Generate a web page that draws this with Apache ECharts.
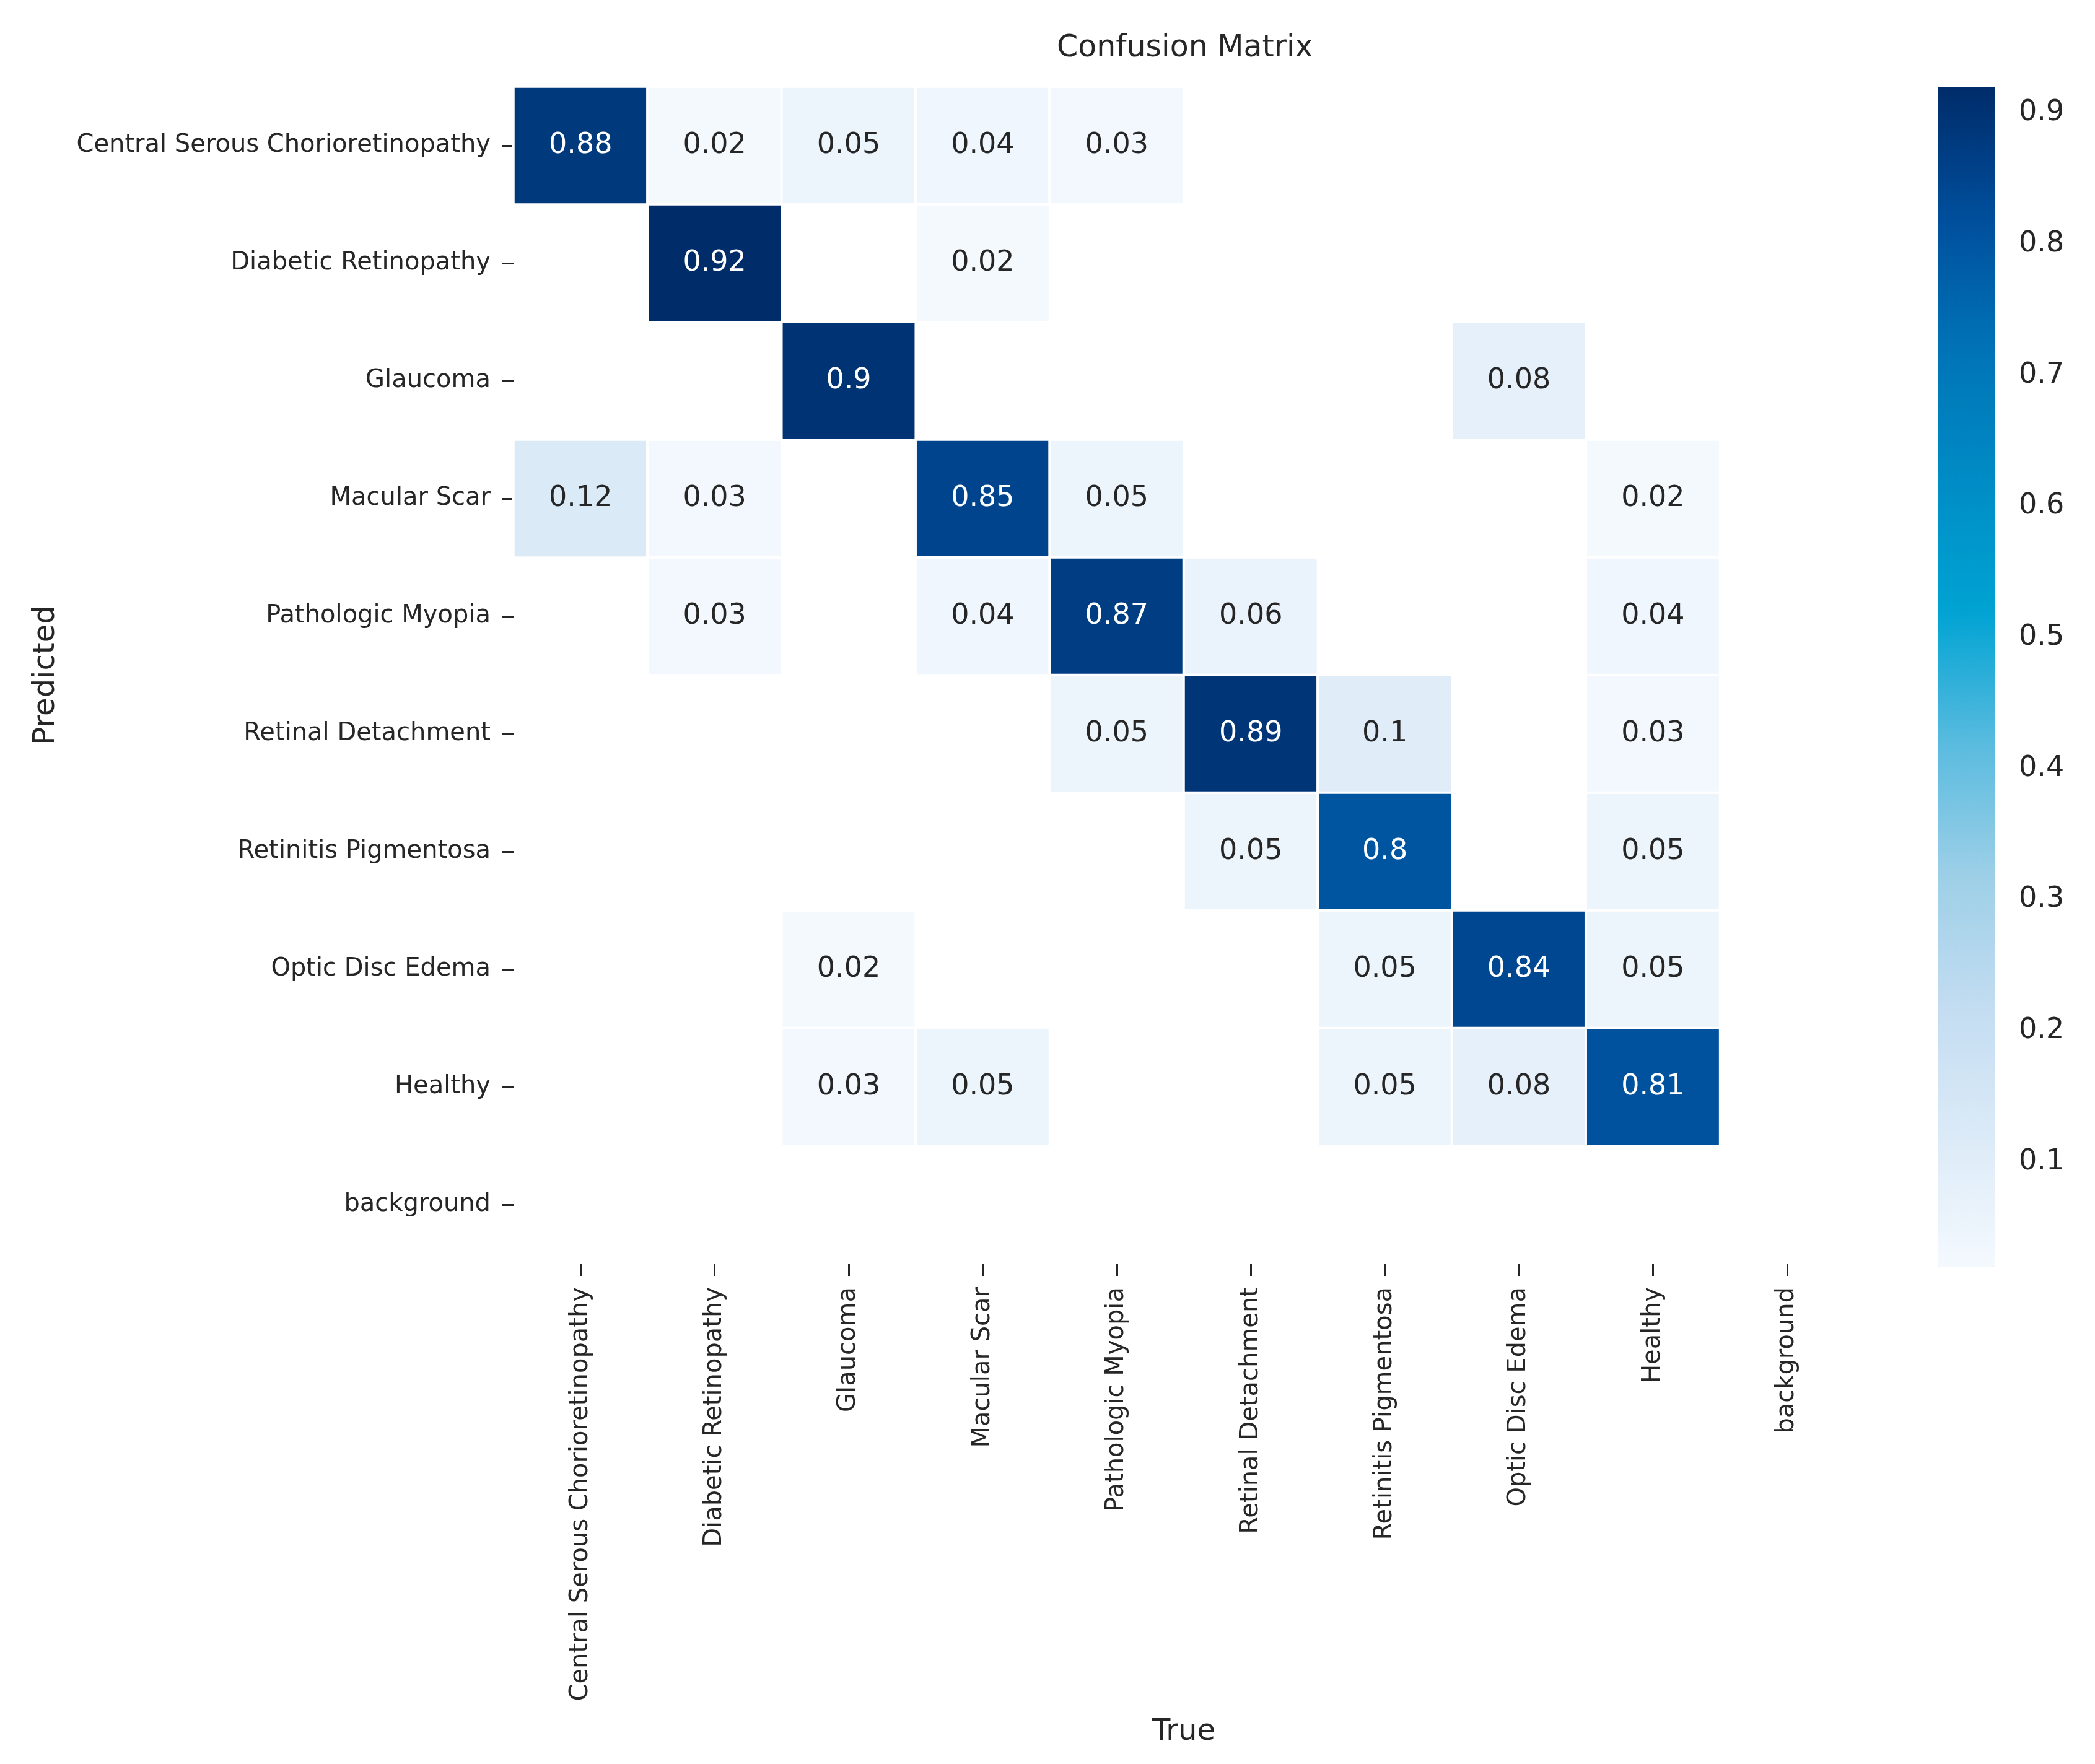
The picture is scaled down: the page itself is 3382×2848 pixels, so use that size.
<!DOCTYPE html>
<html>
<head>
<meta charset="utf-8">
<script src="https://cdn.jsdelivr.net/npm/echarts@6/dist/echarts.min.js"></script>
<style>
html,body{margin:0;padding:0;background:#fff;}
#chart{width:3382px;height:2848px;}
</style>
</head>
<body>
<div id="chart"></div>
<script>
// Categories (rows = Predicted, columns = True)
const classLabels = [
  'Central Serous Chorioretinopathy',
  'Diabetic Retinopathy',
  'Glaucoma',
  'Macular Scar',
  'Pathologic Myopia',
  'Retinal Detachment',
  'Retinitis Pigmentosa',
  'Optic Disc Edema',
  'Healthy',
  'background'
];

// One array per predicted row; null = empty cell
const rowCentralSerous     = [0.88, 0.02, 0.05, 0.04, 0.03, null, null, null, null, null];
const rowDiabetic          = [null, 0.92, null, 0.02, null, null, null, null, null, null];
const rowGlaucoma          = [null, null, 0.9,  null, null, null, null, 0.08, null, null];
const rowMacularScar       = [0.12, 0.03, null, 0.85, 0.05, null, null, null, 0.02, null];
const rowPathologicMyopia  = [null, 0.03, null, 0.04, 0.87, 0.06, null, null, 0.04, null];
const rowRetinalDetachment = [null, null, null, null, 0.05, 0.89, 0.1,  null, 0.03, null];
const rowRetinitisPigment  = [null, null, null, null, null, 0.05, 0.8,  null, 0.05, null];
const rowOpticDiscEdema    = [null, null, 0.02, null, null, null, 0.05, 0.84, 0.05, null];
const rowHealthy           = [null, null, 0.03, 0.05, null, null, 0.05, 0.08, 0.81, null];
const rowBackground        = [null, null, null, null, null, null, null, null, null, null];

const confusionRows = [
  rowCentralSerous, rowDiabetic, rowGlaucoma, rowMacularScar, rowPathologicMyopia,
  rowRetinalDetachment, rowRetinitisPigment, rowOpticDiscEdema, rowHealthy, rowBackground
];

const colorbarMin = 0.02;
const colorbarMax = 0.92;
const colorbarTicks = [0.1, 0.2, 0.3, 0.4, 0.5, 0.6, 0.7, 0.8, 0.9];

const blueScale = ['#f4f9fe','#dbeaf7','#c2dcf1','#9ccfe7','#58bbdf','#00a3d3','#008cc5','#0073b6','#004e9c','#002c69'];

const heatData = [];
confusionRows.forEach((row, r) => {
  row.forEach((v, c) => {
    if (v !== null) {
      heatData.push({
        value: [c, r, v],
        label: { color: v > 0.5 ? '#ffffff' : '#262626' }
      });
    }
  });
});

const FONT = 'DejaVu Sans';
const TXT = '#262626';

const chart = echarts.init(document.getElementById('chart'), null, { renderer: 'canvas' });
chart.setOption({
  backgroundColor: '#ffffff',
  animation: false,
  textStyle: { fontFamily: FONT, color: TXT },
  title: {
    text: 'Confusion Matrix',
    left: 1706,
    top: 54,
    padding: 0,
    textStyle: { fontFamily: FONT, fontSize: 49, fontWeight: 'normal', color: TXT }
  },
  grid: [
    { left: 829, top: 140, width: 2164, height: 1900 },
    { left: 3128, top: 140, width: 93, height: 1905 }
  ],
  xAxis: [
    {
      type: 'category',
      gridIndex: 0,
      data: classLabels,
      position: 'bottom',
      name: 'True',
      nameLocation: 'middle',
      nameGap: 733,
      nameTextStyle: { fontFamily: FONT, fontSize: 48, color: TXT },
      axisLine: { show: false },
      axisTick: { show: true, alignWithLabel: true, length: 20, lineStyle: { color: TXT, width: 3 } },
      axisLabel: { rotate: 90, margin: 38, fontSize: 40, color: TXT, fontFamily: FONT, interval: 0 },
      splitLine: { show: false },
      splitArea: { show: false }
    },
    {
      type: 'value',
      gridIndex: 1,
      min: 0, max: 1,
      show: false
    }
  ],
  yAxis: [
    {
      type: 'category',
      gridIndex: 0,
      data: classLabels,
      inverse: true,
      name: 'Predicted',
      nameLocation: 'middle',
      nameRotate: 90,
      nameGap: 730,
      nameTextStyle: { fontFamily: FONT, fontSize: 48, color: TXT },
      axisLine: { show: false },
      axisTick: { show: true, alignWithLabel: true, length: 19, lineStyle: { color: TXT, width: 3 } },
      axisLabel: { margin: 37, fontSize: 40, color: TXT, fontFamily: FONT, interval: 0 },
      splitLine: { show: false },
      splitArea: { show: false }
    },
    {
      type: 'value',
      gridIndex: 1,
      position: 'right',
      min: colorbarMin,
      max: colorbarMax,
      axisLine: { show: false },
      axisTick: { show: true, length: 20, lineStyle: { color: TXT, width: 3 }, customValues: colorbarTicks },
      axisLabel: { show: true, margin: 38, fontSize: 46, color: TXT, fontFamily: FONT, customValues: colorbarTicks,
                   formatter: v => String(Math.round(v * 10) / 10) },
      splitLine: { show: false }
    }
  ],
  visualMap: {
    type: 'continuous',
    seriesIndex: 0,
    dimension: 2,
    min: colorbarMin,
    max: colorbarMax,
    calculable: false,
    hoverLink: false,
    orient: 'vertical',
    left: 3128,
    top: 140,
    itemWidth: 93,
    itemHeight: 1905,
    padding: 0,
    text: null,
    showLabel: false,
    inRange: { color: blueScale }
  },
  series: [
    {
      type: 'heatmap',
      xAxisIndex: 0,
      yAxisIndex: 0,
      data: heatData,
      itemStyle: { borderColor: '#ffffff', borderWidth: 4 },
      label: {
        show: true,
        fontFamily: FONT,
        fontSize: 46,
        formatter: p => String(p.value[2])
      },
      emphasis: { disabled: true }
    }
  ]
});
</script>
</body>
</html>
